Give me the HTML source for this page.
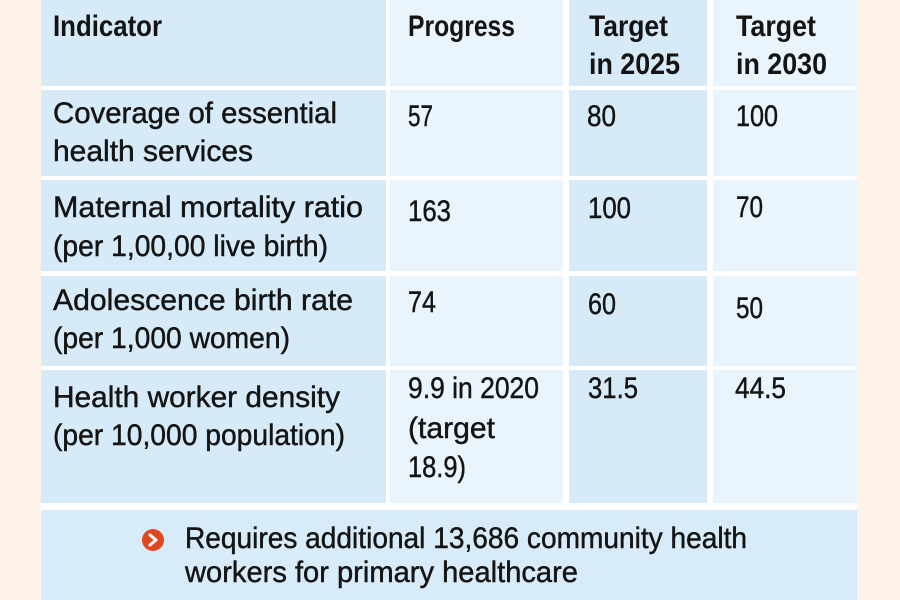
<!DOCTYPE html>
<html>
<head>
<meta charset="utf-8">
<style>
html,body{margin:0;padding:0;background:#fdf3e8;}
svg{display:block;}
text{font-family:"Liberation Sans Narrow","Liberation Sans",sans-serif;font-size:30px;fill:#141414;stroke:#141414;stroke-width:0.45px;}
.b{font-weight:bold;stroke-width:0;}
</style>
</head>
<body>
<svg width="900" height="600" viewBox="0 0 900 600" xmlns="http://www.w3.org/2000/svg">
<rect x="0" y="0" width="900" height="600" fill="#fdf3e8"/>
<rect x="41" y="0" width="816" height="600" fill="#ffffff"/>
<!-- header -->
<rect x="41" y="0" width="345" height="86" fill="#d6eaf8"/>
<rect x="390" y="0" width="173" height="86" fill="#eaf4fc"/>
<rect x="569" y="0" width="138" height="86" fill="#d6eaf8"/>
<rect x="713" y="0" width="144" height="86" fill="#eaf4fc"/>
<!-- row1 -->
<rect x="41" y="90" width="345" height="86" fill="#d6eaf8"/>
<rect x="390" y="90" width="173" height="86" fill="#eaf4fc"/>
<rect x="569" y="90" width="138" height="86" fill="#d6eaf8"/>
<rect x="713" y="90" width="144" height="86" fill="#eaf4fc"/>
<!-- row2 -->
<rect x="41" y="180" width="345" height="91" fill="#d6eaf8"/>
<rect x="390" y="180" width="173" height="91" fill="#eaf4fc"/>
<rect x="569" y="180" width="138" height="91" fill="#d6eaf8"/>
<rect x="713" y="180" width="144" height="91" fill="#eaf4fc"/>
<!-- row3 -->
<rect x="41" y="276" width="345" height="90" fill="#d6eaf8"/>
<rect x="390" y="276" width="173" height="90" fill="#eaf4fc"/>
<rect x="569" y="276" width="138" height="90" fill="#d6eaf8"/>
<rect x="713" y="276" width="144" height="90" fill="#eaf4fc"/>
<!-- row4 -->
<rect x="41" y="370" width="345" height="133" fill="#d6eaf8"/>
<rect x="390" y="370" width="173" height="133" fill="#eaf4fc"/>
<rect x="569" y="370" width="138" height="133" fill="#d6eaf8"/>
<rect x="713" y="370" width="144" height="133" fill="#eaf4fc"/>
<!-- note -->
<rect x="41" y="510" width="816" height="90" fill="#d8ebf9"/>

<!-- header text -->
<text class="b" x="53" y="36" textLength="109" lengthAdjust="spacingAndGlyphs">Indicator</text>
<text class="b" x="408" y="36" textLength="107" lengthAdjust="spacingAndGlyphs">Progress</text>
<text class="b" x="589" y="36" textLength="79" lengthAdjust="spacingAndGlyphs">Target</text>
<text class="b" x="589" y="74" textLength="91" lengthAdjust="spacingAndGlyphs">in 2025</text>
<text class="b" x="736" y="36" textLength="80" lengthAdjust="spacingAndGlyphs">Target</text>
<text class="b" x="736" y="74" textLength="91" lengthAdjust="spacingAndGlyphs">in 2030</text>

<!-- row1 -->
<text x="53" y="123" textLength="284" lengthAdjust="spacingAndGlyphs">Coverage of essential</text>
<text x="53" y="161" textLength="200" lengthAdjust="spacingAndGlyphs">health services</text>
<text x="408" y="126" textLength="25" lengthAdjust="spacingAndGlyphs">57</text>
<text x="587" y="126" textLength="29" lengthAdjust="spacingAndGlyphs">80</text>
<text x="736" y="126" textLength="42" lengthAdjust="spacingAndGlyphs">100</text>

<!-- row2 -->
<text x="53" y="217" textLength="310" lengthAdjust="spacingAndGlyphs">Maternal mortality ratio</text>
<text x="53" y="256" textLength="275" lengthAdjust="spacingAndGlyphs">(per 1,00,00 live birth)</text>
<text x="408" y="221" textLength="43" lengthAdjust="spacingAndGlyphs">163</text>
<text x="588" y="218" textLength="43" lengthAdjust="spacingAndGlyphs">100</text>
<text x="736" y="217" textLength="27" lengthAdjust="spacingAndGlyphs">70</text>

<!-- row3 -->
<text x="53" y="310" textLength="300" lengthAdjust="spacingAndGlyphs">Adolescence birth rate</text>
<text x="53" y="348" textLength="237" lengthAdjust="spacingAndGlyphs">(per 1,000 women)</text>
<text x="408" y="312" textLength="28" lengthAdjust="spacingAndGlyphs">74</text>
<text x="588" y="314" textLength="28" lengthAdjust="spacingAndGlyphs">60</text>
<text x="736" y="318" textLength="27" lengthAdjust="spacingAndGlyphs">50</text>

<!-- row4 -->
<text x="53" y="407" textLength="287" lengthAdjust="spacingAndGlyphs">Health worker density</text>
<text x="53" y="445" textLength="292" lengthAdjust="spacingAndGlyphs">(per 10,000 population)</text>
<text x="408" y="398" textLength="131" lengthAdjust="spacingAndGlyphs">9.9 in 2020</text>
<text x="408" y="438" textLength="87" lengthAdjust="spacingAndGlyphs">(target</text>
<text x="408" y="477" textLength="58" lengthAdjust="spacingAndGlyphs">18.9)</text>
<text x="588" y="398" textLength="50" lengthAdjust="spacingAndGlyphs">31.5</text>
<text x="735" y="398" textLength="51" lengthAdjust="spacingAndGlyphs">44.5</text>

<!-- note -->
<circle cx="153" cy="540" r="11" fill="#e0471f"/>
<path d="M150,535 L156,540 L150,545" fill="none" stroke="#ffffff" stroke-width="3" stroke-linecap="round" stroke-linejoin="round"/>
<text x="185" y="548" textLength="562" lengthAdjust="spacingAndGlyphs">Requires additional 13,686 community health</text>
<text x="185" y="582" textLength="393" lengthAdjust="spacingAndGlyphs">workers for primary healthcare</text>
</svg>
</body>
</html>
